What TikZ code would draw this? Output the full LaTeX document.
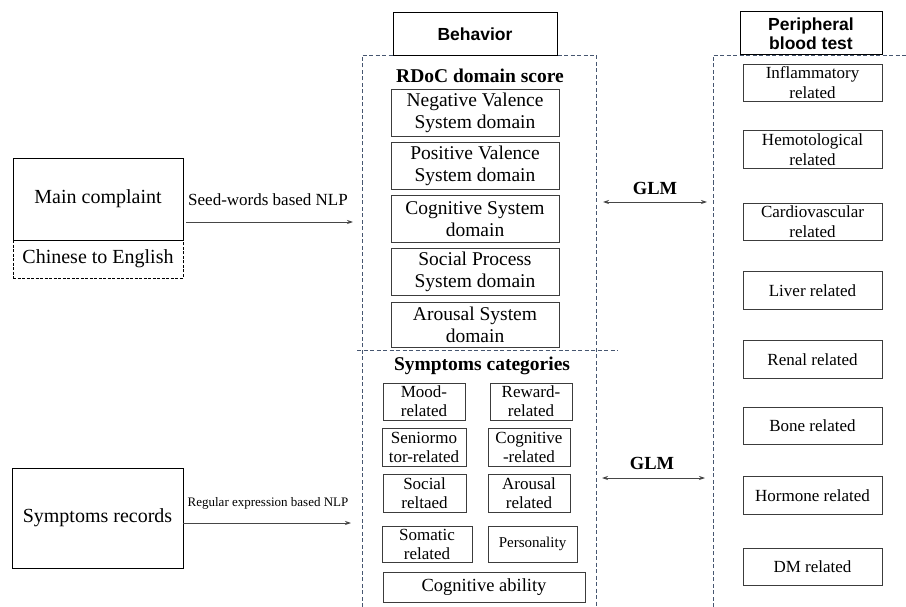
\documentclass[tikz,border=0pt]{standalone}
\usepackage{fontspec}
\setmainfont{Liberation Serif}
\newfontfamily\hsans{Liberation Sans}
\usetikzlibrary{arrows.meta}
\definecolor{boxgray}{RGB}{60,60,60}
\definecolor{dashblue}{RGB}{70,86,112}
\definecolor{arrgray}{RGB}{70,70,70}
\newcommand{\fs}[2]{\fontsize{#1}{#2}\selectfont}
\begin{document}
\begin{tikzpicture}[x=1pt,y=-1pt,
  box/.style={draw=boxgray, line width=0.9pt, inner sep=0pt, align=center},
  dbox/.style={box, dashed, dash pattern=on 3pt off 1.5pt},
  sep/.style={draw=dashblue, line width=0.9pt, dash pattern=on 4pt off 2.5pt},
  arr/.style={draw=arrgray, line width=0.8pt, -{Stealth[length=6pt,width=4pt]}},
  darr/.style={draw=arrgray, line width=0.8pt, {Stealth[length=6pt,width=4pt]}-{Stealth[length=6pt,width=4pt]}},
  title/.style={inner sep=0pt, font=\bfseries\fs{19.5}{22}},
  rd/.style={box, minimum width=168pt, minimum height=47pt, font=\fs{19.5}{22}},
  sy/.style={box, minimum height=37pt, font=\fs{17}{19}},
  bl/.style={box, minimum width=139pt, minimum height=37.5pt, font=\fs{17}{20}},
  hdr/.style={box, line width=1pt, draw=black, font=\hsans\bfseries\fs{17.5}{19.5}},
  glm/.style={inner sep=0pt, font=\bfseries\fs{18.5}{20}},
  lab/.style={inner sep=0pt}
]
\useasboundingbox (0,0) rectangle (906,607);
\fill[white] (0,0) rectangle (906,607);

% dashed containers
\coordinate (lb) at (362,607);
\coordinate (lt) at (362,55);
\coordinate (rt) at (596,55);
\coordinate (rb) at (596,607);
\draw[sep] (lb) -- (lt) -- (rt) -- (rb);
\coordinate (sl) at (357,350);
\coordinate (sr) at (618,350);
\draw[sep] (sl) -- (sr);
\coordinate (pb) at (713,607);
\coordinate (pt) at (713,55);
\coordinate (pr) at (906,55);
\draw[sep] (pb) -- (pt) -- (pr);

% left inputs
\node[box, draw=black, minimum width=170pt, minimum height=82pt, font=\fs{20}{24}] (mc) at (98,199) {Main complaint};
\node[dbox, draw=black, minimum width=170pt, minimum height=38pt, font=\fs{20}{24}] (ce) at (98,259) {Chinese to English};
\node[box, draw=black, minimum width=171pt, minimum height=100pt, font=\fs{20}{24}] (sr1) at (97.5,518) {Symptoms records};

\coordinate (a1s) at (186,222);
\coordinate (a1e) at (353,222);
\draw[arr] (a1s) -- (a1e);
\node[lab, font=\fs{17}{20}] (l1) at (268,200) {Seed-words based NLP};
\coordinate (a2e) at (351,523);
\draw[arr] (sr1.east |- a2e) -- (a2e);
\node[lab, font=\fs{13}{15}] (l2) at (268,503) {Regular expression based NLP};

% headers
\node[hdr, minimum width=164pt, minimum height=43pt] (beh) at (475,34.5) {Behavior};
\node[hdr, minimum width=142pt, minimum height=43pt] (pbt) at (811,33.5) {Peripheral\\blood test};

% RDoC
\node[title] (rdt) at (480,76) {RDoC domain score};
\node[rd] (nv) at (475,113) {Negative Valence\\System domain};
\node[rd] (pv) at (475,165.5) {Positive Valence\\System domain};
\node[rd] (cs) at (475,219) {Cognitive System\\domain};
\node[rd] (sp) at (475,272) {Social Process\\System domain};
\node[rd, minimum height=45pt] (as) at (475,324.5) {Arousal System\\domain};

% Symptoms
\node[title] (syt) at (482,366) {Symptoms categories};
\node[sy, minimum width=82pt] (mood) at (424,401.5) {Mood-\\related};
\node[sy, minimum width=82pt] (rew) at (531,401.5) {Reward-\\related};
\node[sy, minimum width=84pt, minimum height=38pt] (sen) at (424,447) {Seniormo\\tor-related};
\node[sy, minimum width=82pt, minimum height=38pt] (cog) at (529,447) {Cognitive\\-related};
\node[sy, minimum width=83pt, minimum height=38pt] (soc) at (424.5,493) {Social\\reltaed};
\node[sy, minimum width=82pt, minimum height=38pt] (aro) at (529,493) {Arousal\\related};
\node[sy, minimum width=90pt, minimum height=36pt] (som) at (427,544) {Somatic\\related};
\node[sy, minimum width=89pt, minimum height=36pt, font=\fs{15}{17}] (per) at (532.5,544) {Personality};
\node[sy, minimum width=202pt, minimum height=30pt, font=\fs{18.5}{20}] (cab) at (484,587) {Cognitive ability};

% GLM
\node[glm] (g1) at (655,188) {GLM};
\coordinate (g1l) at (603,202);
\coordinate (g1r) at (707,202);
\draw[darr] (g1l) -- (g1r);
\node[glm] (g2) at (652,463) {GLM};
\coordinate (g2l) at (602,478);
\coordinate (g2r) at (705,478);
\draw[darr] (g2l) -- (g2r);

% Blood tests
\node[bl] (inf) at (812.5,83) {Inflammatory\\related};
\node[bl] (hem) at (812.5,149.5) {Hemotological\\related};
\node[bl] (car) at (812.5,222) {Cardiovascular\\related};
\node[bl] (liv) at (812.5,290.5) {Liver related};
\node[bl] (ren) at (812.5,359.5) {Renal related};
\node[bl] (bon) at (812.5,426) {Bone related};
\node[bl] (hor) at (812.5,495.5) {Hormone related};
\node[bl] (dm) at (812.5,567) {DM related};
\end{tikzpicture}
\end{document}
